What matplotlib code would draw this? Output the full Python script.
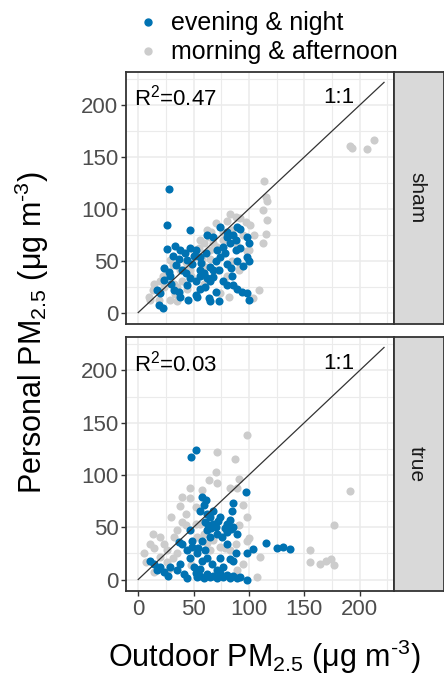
import matplotlib.pyplot as plt
from matplotlib.lines import Line2D
from matplotlib.ticker import MultipleLocator

plt.rcParams['font.family'] = ['Liberation Sans', 'DejaVu Sans']
plt.rcParams['mathtext.fontset'] = 'custom'
plt.rcParams['mathtext.rm'] = 'Liberation Sans'
plt.rcParams['mathtext.it'] = 'Liberation Sans:italic'

# sham panel
sham_eve_x = [28, 26, 47, 62, 26, 47, 52, 31, 37, 23, 28, 34, 40, 44, 49, 56, 61, 65, 68, 74,
              80, 86, 89, 83, 88, 77, 98, 100, 89, 98, 100, 80, 74, 73, 56, 59, 47, 52, 62, 65,
              56, 77, 80, 86, 89, 94, 98, 100, 73, 64, 65, 52, 53, 37, 38, 32, 17, 20, 19, 22,
              44, 43, 38, 88, 80, 92, 68, 71, 56, 29, 23, 33, 42, 50, 57, 70, 78, 84, 92, 60,
              70, 45, 30, 85, 95, 68]
sham_eve_y = [119, 84, 80, 75, 61, 62, 60, 55, 52, 43, 39, 46, 41, 51, 47, 54, 57, 44, 41, 83,
              78, 75, 83, 67, 60, 63, 73, 67, 50, 54, 50, 47, 54, 41, 41, 38, 33, 30, 33, 30,
              23, 30, 27, 27, 23, 20, 19, 12, 11, 14, 11, 17, 15, 20, 15, 22, 22, 19, 7, 4,
              27, 38, 60, 70, 73, 81, 73, 60, 35, 35, 31, 64, 57, 55, 48, 50, 57, 43, 62, 25,
              20, 12, 28, 35, 45, 34]
sham_morn_x = [114, 115, 116, 113, 116, 115, 113, 109, 104, 83, 88, 97, 101, 92, 74, 77, 62, 64, 56, 59,
               68, 71, 77, 91, 92, 65, 53, 58, 43, 44, 29, 31, 38, 22, 26, 14, 13, 10, 11, 32,
               35, 23, 19, 35, 44, 59, 74, 82, 71, 80, 47, 61, 65, 98, 88, 29, 191, 193, 207, 213,
               50, 55, 66, 70, 80, 85, 95, 40, 48, 20, 60, 85, 100, 105, 33]
sham_morn_y = [127, 111, 108, 99, 89, 76, 67, 22, 14, 95, 92, 87, 84, 91, 83, 78, 80, 73, 70, 67,
               67, 63, 70, 41, 44, 60, 54, 51, 49, 44, 51, 46, 41, 35, 38, 28, 22, 15, 12, 28,
               25, 25, 12, 11, 23, 28, 19, 15, 41, 35, 41, 44, 52, 59, 67, 12, 161, 159, 158, 166,
               60, 62, 78, 86, 88, 80, 75, 30, 35, 30, 35, 50, 60, 75, 18]

# true panel
true_eve_x = [52, 48, 58, 61, 59, 56, 62, 86, 85, 97, 65, 68, 74, 80, 83, 86, 62, 65, 71, 76,
              80, 89, 47, 49, 40, 37, 44, 47, 53, 58, 62, 67, 74, 83, 88, 98, 104, 115, 125, 131,
              137, 14, 11, 17, 23, 29, 35, 41, 44, 53, 59, 65, 71, 77, 83, 89, 98, 71, 77, 56,
              38, 49, 58, 80, 86, 68, 60, 63, 66, 70, 72, 78, 84, 54, 60, 52, 56, 62, 68, 74,
              80, 86, 92, 50, 20, 27]
true_eve_y = [124, 117, 79, 76, 71, 66, 63, 73, 66, 84, 60, 53, 60, 53, 57, 50, 47, 41, 44, 41,
              45, 44, 47, 37, 34, 36, 28, 21, 25, 18, 21, 15, 21, 20, 25, 25, 29, 35, 30, 31,
              29, 15, 18, 9, 7, 12, 9, 5, 1, 2, 1, 2, 1, 2, 1, 1, 0, 9, 12, 10,
              15, 31, 37, 34, 18, 66, 55, 52, 49, 50, 56, 49, 48, 30, 28, 6, 3, 5, 3, 6,
              4, 3, 2, 12, 12, 3]
true_morn_x = [98, 71, 87, 70, 71, 91, 89, 47, 40, 47, 52, 43, 83, 95, 98, 91, 177, 191, 155, 155,
               164, 170, 174, 177, 13, 20, 11, 14, 5, 7, 23, 26, 31, 35, 26, 14, 43, 52, 59, 88,
               98, 74, 83, 65, 53, 107, 89, 56, 32, 30, 35, 40, 62, 68, 78, 20, 28, 48, 95,
               100, 110, 38, 58, 64]
true_morn_y = [138, 122, 115, 103, 92, 96, 88, 88, 79, 78, 69, 63, 88, 71, 60, 52, 52, 85, 28, 17,
               15, 18, 20, 14, 44, 41, 34, 30, 25, 17, 34, 28, 21, 25, 17, 7, 52, 53, 44, 34,
               37, 31, 28, 28, 41, 2, 9, 53, 41, 60, 47, 55, 35, 38, 30, 22, 10, 14, 15,
               40, 22, 70, 86, 95]

panels = ['sham', 'true']
r2_labels = ['0.47', '0.03']
eve_x = [sham_eve_x, true_eve_x]
eve_y = [sham_eve_y, true_eve_y]
morn_x = [sham_morn_x, true_morn_x]
morn_y = [sham_morn_y, true_morn_y]
line_end = 222

blue = '#0072B2'
grey = '#CCCCCC'

fig = plt.figure(figsize=(4.44, 6.77), dpi=100)
W, H = 444, 677
boxes = [(126, 72, 394, 324), (126, 337, 394, 591)]

for i, (l, t, r, b) in enumerate(boxes):
    ax = fig.add_axes([l / W, 1 - b / H, (r - l) / W, (b - t) / H])
    ax.set_xlim(-11, 231)
    ax.set_ylim(-11, 232)
    ax.xaxis.set_major_locator(MultipleLocator(50))
    ax.yaxis.set_major_locator(MultipleLocator(50))
    ax.xaxis.set_minor_locator(MultipleLocator(25))
    ax.yaxis.set_minor_locator(MultipleLocator(25))
    ax.grid(True, which='major', color='#EBEBEB', lw=1.1)
    ax.grid(True, which='minor', color='#EBEBEB', lw=0.8)
    ax.set_axisbelow(True)
    ax.tick_params(which='minor', length=0)
    ax.tick_params(which='major', length=3.5, width=1, color='#333333',
                   labelcolor='#4D4D4D', labelsize=16, pad=2)
    for s in ax.spines.values():
        s.set_color('#333333')
        s.set_linewidth(1.3)
    if i == 0:
        ax.tick_params(labelbottom=False, bottom=False)

    ax.scatter(morn_x[i], morn_y[i], s=34, color=grey, lw=0, zorder=2)
    ax.scatter(eve_x[i], eve_y[i], s=34, color=blue, lw=0, zorder=3)
    ax.plot([0, line_end], [0, line_end], color='#333333', lw=0.9, zorder=4)

    ax.text(-4, 207, r'R$^{2}$=' + r2_labels[i], fontsize=16, va='center', ha='left', color='black')
    ax.text(195, 207, '1:1', fontsize=16, va='center', ha='right', color='black')

    # facet strip
    sax = fig.add_axes([r / W, 1 - b / H, (W - r) / W, (b - t) / H])
    sax.set_facecolor('#D9D9D9')
    sax.set_xticks([])
    sax.set_yticks([])
    for s in sax.spines.values():
        s.set_color('#333333')
        s.set_linewidth(1.3)
    sax.text(0.45, 0.5, panels[i], rotation=-90, ha='center', va='center',
             fontsize=15, color='#1A1A1A', transform=sax.transAxes)

fig.text(264 / W, 1 - 657 / H, r'Outdoor PM$_{\mathrm{2.5}}$ ($\mathrm{\mu}$g m$^{\text{-3}}$)',
         ha='center', va='center', fontsize=22)
fig.text(32 / W, 1 - 333 / H, r'Personal PM$_{\mathrm{2.5}}$ ($\mathrm{\mu}$g m$^{\text{-3}}$)',
         ha='center', va='center', rotation=90, fontsize=22)

handles = [Line2D([], [], marker='o', ls='', color=blue, markersize=5),
           Line2D([], [], marker='o', ls='', color=grey, markersize=5)]
fig.legend(handles, ['evening & night', 'morning & afternoon'], loc='upper left',
           bbox_to_anchor=(128 / W, 1 + 1 / H), frameon=False, fontsize=18,
           handlelength=0.6, handletextpad=0.6, labelspacing=0.2, borderpad=0)

fig.savefig('out.png', dpi=100)
